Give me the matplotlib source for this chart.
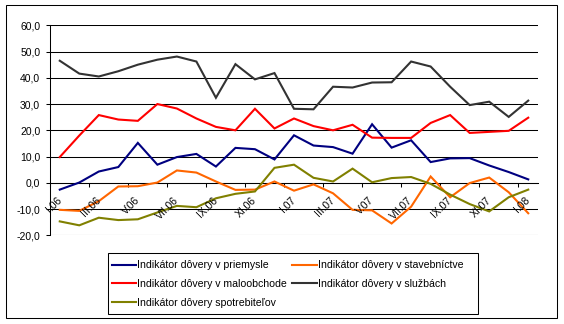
import matplotlib
matplotlib.use("Agg")
import matplotlib.pyplot as plt
from matplotlib.patches import Rectangle
import numpy as np

plt.rcParams['font.family'] = ['Liberation Sans', 'DejaVu Sans']

# ---- data ----
months = ["I.06", "II.06", "III.06", "IV.06", "V.06", "VI.06", "VII.06", "VIII.06",
          "IX.06", "X.06", "XI.06", "XII.06", "I.07", "II.07", "III.07", "IV.07",
          "V.07", "VI.07", "VII.07", "VIII.07", "IX.07", "X.07", "XI.07", "XII.07", "I.08"]

priemysel = [-2.6, 0.1, 4.3, 6.0, 15.2, 6.9, 9.8, 11.0, 6.2, 13.3, 12.8, 8.9, 18.1,
             14.2, 13.6, 11.1, 22.3, 13.4, 16.2, 7.9, 9.3, 9.4, 6.6, 4.1, 1.3]
stavebnictvo = [-10.3, -10.7, -7.0, -1.4, -1.3, 0.1, 4.7, 3.9, 0.5, -2.7, -2.6, 0.5, -3.0,
                -0.6, -4.0, -10.3, -10.5, -15.5, -9.1, 2.4, -5.5, -0.1, 2.0, -3.6, -11.6]
maloobchod = [9.8, 18.0, 25.8, 24.1, 23.6, 30.0, 28.3, 24.5, 21.3, 20.0, 28.2, 20.7, 24.5,
              21.6, 20.0, 22.1, 17.2, 17.1, 17.1, 22.8, 25.8, 19.0, 19.4, 19.8, 24.8]
sluzby = [46.5, 41.6, 40.5, 42.5, 45.0, 46.9, 48.1, 46.2, 32.4, 45.2, 39.4, 41.8, 28.2,
          28.0, 36.6, 36.3, 38.2, 38.3, 46.2, 44.3, 36.6, 29.6, 30.9, 25.1, 31.3]
spotrebitelia = [-14.7, -16.2, -13.3, -14.2, -13.9, -11.3, -8.8, -9.3, -5.9, -4.2, -3.3, 5.7,
                 6.9, 1.9, 0.5, 5.4, 0.2, 1.8, 2.2, -0.4, -4.5, -8.1, -10.9, -5.5, -2.6]

series_names = ["Indikátor dôvery v priemysle", "Indikátor dôvery v stavebníctve",
                "Indikátor dôvery v maloobchode", "Indikátor dôvery v službách",
                "Indikátor dôvery spotrebiteľov"]
series_values = [priemysel, stavebnictvo, maloobchod, sluzby, spotrebitelia]
series_colors = ["#000080", "#FF6600", "#FF0000", "#333333", "#808000"]

yticks = list(range(-20, 61, 10))

# ---- figure ----
W, H = 564, 324
fig = plt.figure(figsize=(W / 100, H / 100), dpi=100)
left, right, top, bottom = 50, 538, 25.3, 235.3
ax = fig.add_axes([left / W, 1 - bottom / H, (right - left) / W, (bottom - top) / H])

x = np.arange(len(months))
handles = []
for name, vals, col in zip(series_names, series_values, series_colors):
    h, = ax.plot(x, vals, color=col, lw=1.5, label=name, zorder=3,
                 solid_joinstyle='miter')
    handles.append(h)

ax.set_xlim(-0.5, len(months) - 0.5)
ax.set_ylim(-20, 60)
ax.set_yticks(yticks)
ax.set_yticklabels([f"{v:.1f}".replace(".", ",") for v in yticks], fontsize=7.5)
ax.yaxis.grid(True, color='black', lw=0.75)
ax.set_axisbelow(True)
ax.tick_params(axis='y', direction='out', length=3, width=0.75, pad=4, colors='black')

for s in ['top', 'right']:
    ax.spines[s].set_visible(False)
ax.spines['left'].set_linewidth(0.75)
ax.spines['bottom'].set_position(('data', 0))
ax.spines['bottom'].set_linewidth(0.75)
ax.set_xticks(np.arange(0, len(months), 2) - 0.5)
ax.tick_params(axis='x', direction='out', length=3, width=0.75, labelbottom=False)

for i in range(0, len(months), 2):
    ax.annotate(months[i], xy=(i, 0), xytext=(-2.5, -9), textcoords='offset points',
                rotation=45, ha='right', va='top', rotation_mode='anchor',
                fontsize=7.5, zorder=5, annotation_clip=False)

order = [0, 2, 4, 1, 3]
leg = fig.legend([handles[k] for k in order], [series_names[k] for k in order],
                 loc='upper left', bbox_to_anchor=(111.5 / W, 1 - 260.5 / H),
                 bbox_transform=fig.transFigure, ncol=2, frameon=False,
                 borderaxespad=0, fontsize=7.6,
                 handlelength=2.3, handletextpad=0.15, columnspacing=0.5,
                 labelspacing=0.82, borderpad=0)

# legend frame
fig.add_artist(Rectangle((108 / W, 1 - 314 / H), (478 - 108) / W, (314 - 253) / H,
                         transform=fig.transFigure, fill=False, lw=0.75, ec='black'))
# chart area border
fig.add_artist(Rectangle((6 / W, 1 - 318 / H), (557 - 6) / W, (318 - 5) / H,
                         transform=fig.transFigure, fill=False, lw=0.75, ec='black'))

fig.savefig('out.png', dpi=100)
